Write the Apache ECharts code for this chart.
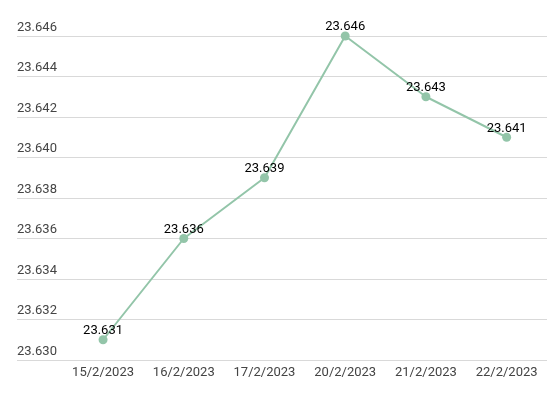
<!DOCTYPE html>
<html><head><meta charset="utf-8">
<script src="https://cdn.jsdelivr.net/npm/echarts@6/dist/echarts.min.js"></script>
<style>html,body{margin:0;padding:0;background:#fff}#c{width:553px;height:395px}</style>
</head><body><div id="c"></div>
<script>
const categories = ['15/2/2023','16/2/2023','17/2/2023','20/2/2023','21/2/2023','22/2/2023'];
const values = [23.631, 23.636, 23.639, 23.646, 23.643, 23.641];
const yMin = 23.630, yMax = 23.646, yStep = 0.002;

const chart = echarts.init(document.getElementById('c'));
chart.setOption({
  animation: false,
  grid: [
    {left: 17, right: 6, top: 36, bottom: 35},
    {left: 62.7, right: 6, top: 36, bottom: 35}
  ],
  xAxis: [
    {gridIndex: 0, type: 'category', data: categories, show: false},
    {gridIndex: 1, type: 'category', data: categories,
     axisLine: {show: false}, axisTick: {show: false},
     axisLabel: {color: '#444', fontFamily: 'Roboto', fontSize: 13, margin: 6}}
  ],
  yAxis: [
    {gridIndex: 0, type: 'value', min: yMin, max: yMax, interval: yStep,
     axisLine: {show: false}, axisTick: {show: false},
     splitLine: {lineStyle: {color: '#d9d9d9', width: 1}},
     axisLabel: {inside: true, margin: 0, verticalAlign: 'bottom', padding: [0,0,2,0],
       color: '#444', fontFamily: 'Roboto', fontSize: 13,
       formatter: v => v.toFixed(3)}},
    {gridIndex: 1, type: 'value', min: yMin, max: yMax, interval: yStep, show: false,
     splitLine: {show: false}}
  ],
  series: [{
    type: 'line', xAxisIndex: 1, yAxisIndex: 1, data: values,
    symbol: 'circle', symbolSize: 9,
    lineStyle: {color: '#93c5a9', width: 2},
    itemStyle: {color: '#93c5a9'},
    label: {show: true, position: 'top', distance: -2, color: '#000',
      fontFamily: 'Roboto', fontSize: 13, formatter: p => p.value.toFixed(3)}
  }]
});
</script></body></html>
